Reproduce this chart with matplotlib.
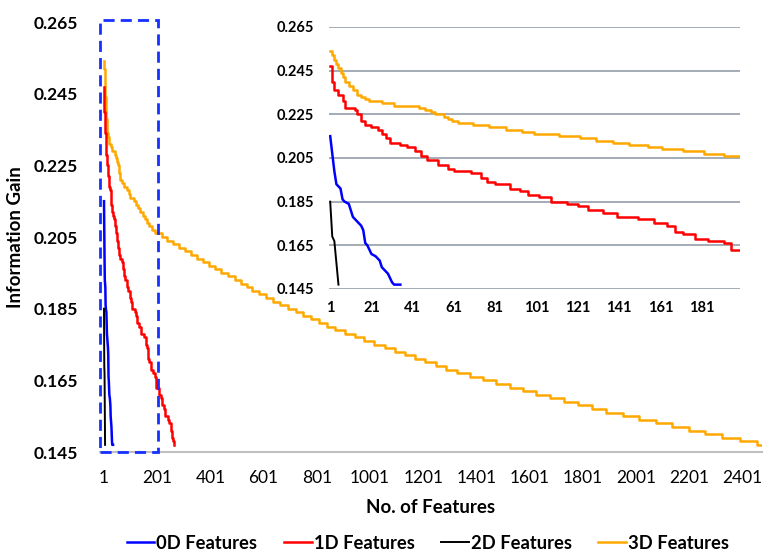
import matplotlib
matplotlib.use("Agg")
import matplotlib.pyplot as plt
from matplotlib.patches import Rectangle

plt.rcParams['font.family'] = ['Lato', 'DejaVu Sans']

# 0D features
n_0d = [1, 2, 3, 4, 6, 7, 8, 10, 11, 12, 14, 16, 17, 18, 19, 20, 21, 23, 25, 26, 27, 29, 30, 31, 32, 35]
ig_0d = [0.215, 0.207, 0.199, 0.193, 0.191, 0.186, 0.185, 0.184, 0.181, 0.178,
         0.176, 0.174, 0.172, 0.166, 0.165, 0.163, 0.161, 0.160, 0.158, 0.155,
         0.154, 0.152, 0.150, 0.148, 0.147, 0.147]

# 1D features
n_1d = [1, 2, 3, 5, 7, 8, 13, 14, 16, 18, 21, 24, 26, 28, 30, 35, 38, 42, 45, 48,
        53, 58, 61, 69, 74, 77, 81, 88, 93, 97, 102, 108, 116, 121, 126, 133, 140, 150, 158, 164,
        168, 172, 178, 184, 192, 195, 208, 214, 220, 226, 232, 240, 246, 252, 258, 262, 266]
ig_1d = [0.247, 0.240, 0.236, 0.234, 0.231, 0.228, 0.227, 0.225, 0.222, 0.220,
         0.219, 0.218, 0.216, 0.214, 0.212, 0.211, 0.210, 0.208, 0.206, 0.204,
         0.202, 0.200, 0.199, 0.198, 0.196, 0.194, 0.193, 0.191, 0.190, 0.188,
         0.187, 0.185, 0.184, 0.183, 0.181, 0.180, 0.178, 0.177, 0.175, 0.174,
         0.171, 0.170, 0.168, 0.167, 0.166, 0.163, 0.161, 0.160, 0.158, 0.157,
         0.155, 0.154, 0.153, 0.151, 0.149, 0.148, 0.147]

# 2D features
n_2d = [1, 2, 3, 4, 5]
ig_2d = [0.185, 0.169, 0.167, 0.157, 0.147]

# 3D features (start of each step)
n_3d = [1, 2, 3, 4, 5, 6, 7, 8, 10, 12, 14, 16, 18, 20, 26, 32, 44, 47, 50, 52,
        56, 58, 60, 63, 70, 78, 86, 94, 100, 112, 122, 130, 138, 146, 155, 162, 172, 182, 192,
        218, 239, 262, 284, 307, 328, 349, 372, 394, 417, 442, 467, 492, 517, 538, 557, 583, 609, 636, 664,
        692, 721, 750, 780, 810, 839, 871, 907, 944, 980, 1017, 1056, 1094, 1132, 1171, 1209, 1248, 1288,
        1330, 1376, 1426, 1476, 1526, 1576, 1626, 1676, 1729, 1782, 1835, 1890, 1952, 2014, 2076, 2138,
        2200, 2262, 2326, 2392, 2455, 2470]
ig_3d = [0.254, 0.252, 0.250, 0.248, 0.246, 0.244, 0.242, 0.240, 0.238, 0.236,
         0.234, 0.233, 0.232, 0.231, 0.230, 0.229, 0.228, 0.227, 0.226, 0.225,
         0.224, 0.223, 0.222, 0.221, 0.220, 0.219, 0.218, 0.217, 0.216, 0.215,
         0.214, 0.213, 0.212, 0.211, 0.210, 0.209, 0.208, 0.207, 0.206,
         0.205, 0.204, 0.203, 0.202, 0.201, 0.200, 0.199, 0.198, 0.197, 0.196,
         0.195, 0.194, 0.193, 0.192, 0.191, 0.190, 0.189, 0.188, 0.187, 0.186,
         0.185, 0.184, 0.183, 0.182, 0.181, 0.180, 0.179, 0.178, 0.177, 0.176,
         0.175, 0.174, 0.173, 0.172, 0.171, 0.170, 0.169, 0.168, 0.167, 0.166,
         0.165, 0.164, 0.163, 0.162, 0.161, 0.160, 0.159, 0.158, 0.157, 0.156,
         0.155, 0.154, 0.153, 0.152, 0.151, 0.150, 0.149, 0.148, 0.147, 0.147]

labels = ['0D Features', '1D Features', '2D Features', '3D Features']
cores = ['#0000FF', '#FF0000', '#000000', '#FFA800']
yticks = [0.145, 0.165, 0.185, 0.205, 0.225, 0.245, 0.265]
xticks_main = [1, 201, 401, 601, 801, 1001, 1201, 1401, 1601, 1801, 2001, 2201, 2401]
xticks_ins = [1, 21, 41, 61, 81, 101, 121, 141, 161, 181]

fig = plt.figure(figsize=(7.67, 5.53), dpi=100)

# grafico principal
ax = fig.add_axes([0.1304, 0.1826, 0.8631, 0.7776])
ax.plot(n_0d, ig_0d, color=cores[0], lw=1.8, label=labels[0], zorder=3)
ax.plot(n_1d, ig_1d, color=cores[1], lw=1.8, drawstyle='steps-post', label=labels[1], zorder=3)
ax.plot(n_2d, ig_2d, color=cores[2], lw=1.4, label=labels[2], zorder=4)
ax.plot(n_3d, ig_3d, color=cores[3], lw=1.8, drawstyle='steps-post', label=labels[3], zorder=2)
ax.set_xlim(-14, 2475)
ax.set_ylim(0.145, 0.265)
ax.set_yticks(yticks)
ax.set_yticklabels(['%.3f' % t for t in yticks], fontsize=12.5, fontweight='bold')
ax.set_xticks(xticks_main)
ax.set_xticklabels([str(t) for t in xticks_main], fontsize=12.5)
ax.tick_params(axis='y', length=0, pad=16)
ax.tick_params(axis='x', length=0, pad=13)
for s in ['top', 'right', 'left']:
    ax.spines[s].set_visible(False)
ax.spines['bottom'].set_color('#BFBFBF')
ax.spines['bottom'].set_linewidth(1.5)
ax.set_ylabel('Information Gain', fontsize=13.5, fontweight='bold', labelpad=7)
ax.set_xlabel('No. of Features', fontsize=13.5, fontweight='bold', labelpad=9)

# caixa tracejada (zoom)
box = Rectangle((-14, 0.145), 218, 0.1205, fill=False, edgecolor='#1530FF', lw=2.0,
                linestyle=(0, (4, 2.2)), clip_on=False, zorder=5)
ax.add_patch(box)

# grafico interno
axi = fig.add_axes([0.4289, 0.4774, 0.5359, 0.4738], facecolor='none')
axi.plot(n_0d, ig_0d, color=cores[0], lw=1.8, zorder=3)
axi.plot(n_1d, ig_1d, color=cores[1], lw=1.8, drawstyle='steps-post', zorder=3)
axi.plot(n_2d, ig_2d, color=cores[2], lw=1.4, zorder=4)
axi.plot(n_3d, ig_3d, color=cores[3], lw=1.8, drawstyle='steps-post', zorder=2)
axi.set_xlim(0.4, 199.6)
axi.set_ylim(0.145, 0.265)
axi.set_yticks(yticks)
axi.set_yticklabels(['%.3f' % t for t in yticks], fontsize=10.5, fontweight='bold')
axi.set_xticks(xticks_ins)
axi.set_xticklabels([str(t) for t in xticks_ins], fontsize=10.5, fontweight='bold')
axi.tick_params(length=0)
axi.tick_params(axis='y', pad=11)
axi.tick_params(axis='x', pad=9)
for s in axi.spines.values():
    s.set_visible(False)
axi.grid(axis='y', color='#A3ABB6', lw=1.4)
axi.set_axisbelow(True)

# legenda
h, l = ax.get_legend_handles_labels()
fig.legend(h, l, loc='center', bbox_to_anchor=(0.558, 0.018), ncol=4, frameon=False,
           prop={'size': 13.2, 'weight': 'bold'}, handlelength=1.5, handletextpad=0.12,
           columnspacing=1.45)

fig.savefig('out.png', dpi=100)
